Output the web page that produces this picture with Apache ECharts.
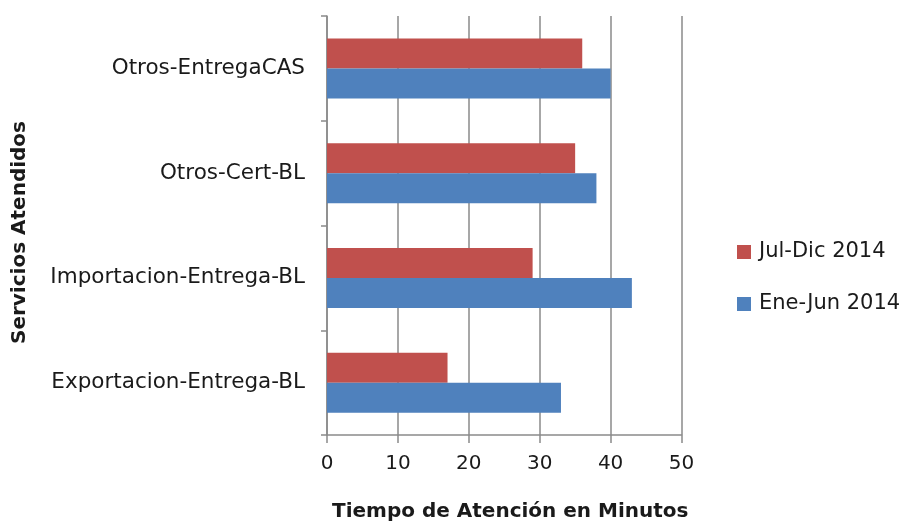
<!DOCTYPE html>
<html>
<head>
<meta charset="utf-8">
<script src="https://cdn.jsdelivr.net/npm/echarts@6/dist/echarts.min.js"></script>
<style>
  html, body { margin: 0; padding: 0; background: #fff; }
  #chart { width: 906px; height: 527px; }
</style>
</head>
<body>
<div id="chart"></div>
<script>
// Service categories, listed bottom to top along the vertical axis
const categories = [
  'Exportacion-Entrega-BL',
  'Importacion-Entrega-BL',
  'Otros-Cert-BL',
  'Otros-EntregaCAS'
];

// Average attention time (minutes) per half-year
const seriesNames = ['Jul-Dic 2014', 'Ene-Jun 2014'];
const julDic2014 = [17, 29, 35, 36];
const eneJun2014 = [33, 43, 38, 40];

// Value axis ticks
const xTicks = [0, 10, 20, 30, 40, 50];

const FONT = '"DejaVu Sans", sans-serif';
const TEXT = '#1a1a1a';
const GRID_GRAY = '#8a8a8a';

const chart = echarts.init(document.getElementById('chart'), null, { renderer: 'canvas' });

chart.setOption({
  animation: false,
  backgroundColor: '#ffffff',
  grid: { left: 327, top: 16, width: 354.5, height: 424, containLabel: false },
  legend: {
    orient: 'vertical',
    left: 732,
    top: 235,
    itemWidth: 14,
    itemHeight: 14,
    itemGap: 28,
    icon: 'rect',
    data: seriesNames,
    textStyle: { fontFamily: FONT, fontSize: 21, color: TEXT, lineHeight: 24, padding: [0, 0, 0, 3] }
  },
  xAxis: {
    type: 'value',
    min: xTicks[0],
    max: xTicks[xTicks.length - 1],
    interval: xTicks[1] - xTicks[0],
    name: 'Tiempo de Atención en Minutos',
    nameLocation: 'middle',
    nameGap: 67,
    nameTextStyle: { fontFamily: FONT, fontSize: 20, fontWeight: 'bold', color: TEXT, padding: [0, 0, 0, 12] },
    axisLine: { show: true, lineStyle: { color: GRID_GRAY, width: 1.5 } },
    axisTick: { show: true, length: 8, lineStyle: { color: GRID_GRAY, width: 1.5 } },
    axisLabel: { fontFamily: FONT, fontSize: 20, color: TEXT, margin: 19 },
    splitLine: { show: true, lineStyle: { color: GRID_GRAY, width: 1.5 } }
  },
  yAxis: {
    type: 'category',
    data: categories,
    name: 'Servicios Atendidos',
    nameLocation: 'middle',
    nameGap: 297,
    nameRotate: 90,
    nameTextStyle: { fontFamily: FONT, fontSize: 20, fontWeight: 'bold', color: TEXT, padding: [0, 14, 0, 0] },
    axisLine: { show: true, lineStyle: { color: GRID_GRAY, width: 1.5 } },
    axisTick: { show: true, length: 6, lineStyle: { color: GRID_GRAY, width: 1.5 } },
    axisLabel: { fontFamily: FONT, fontSize: 21.5, color: TEXT, margin: 22 }
  },
  series: [
    {
      name: seriesNames[0],
      type: 'bar',
      data: julDic2014,
      barWidth: 30,
      barGap: '0%',
      barCategoryGap: '43%',
      itemStyle: { color: '#C0504D' }
    },
    {
      name: seriesNames[1],
      type: 'bar',
      data: eneJun2014,
      barWidth: 30,
      barGap: '0%',
      barCategoryGap: '43%',
      itemStyle: { color: '#4F81BD' }
    }
  ]
});
</script>
</body>
</html>
